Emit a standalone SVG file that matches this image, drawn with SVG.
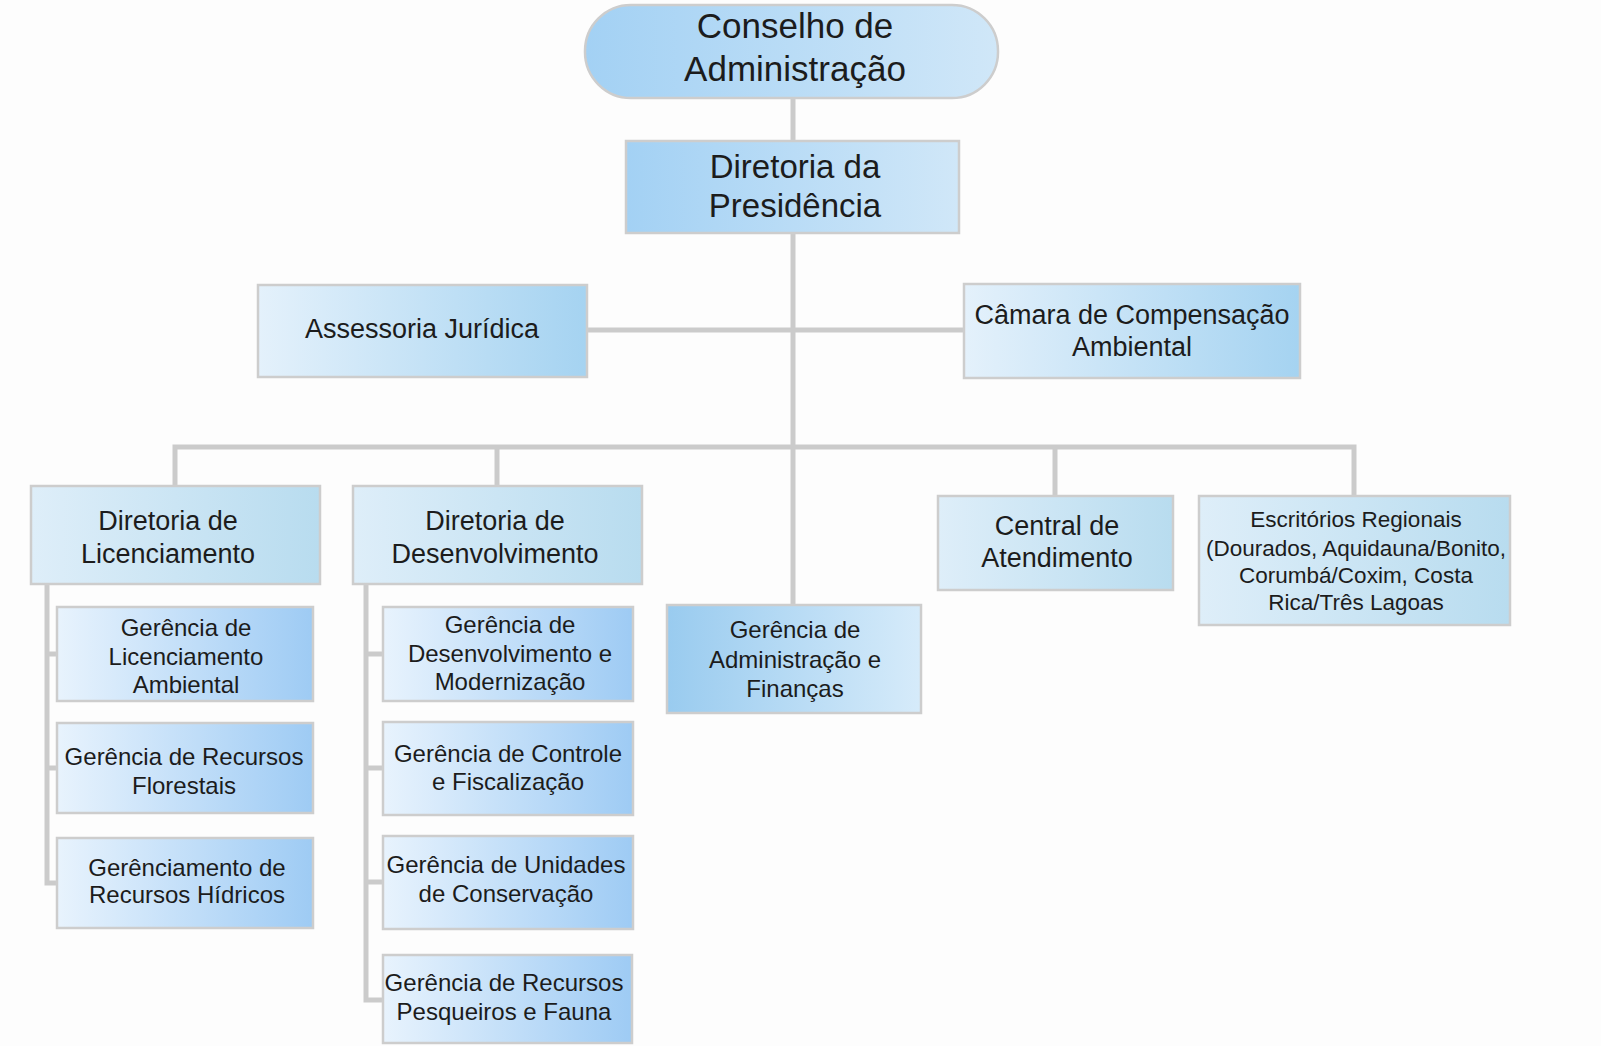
<svg xmlns="http://www.w3.org/2000/svg" width="1601" height="1046" viewBox="0 0 1601 1046">
<style>
.t{font-family:"Liberation Sans",Arial,sans-serif;fill:#1c1c1c;text-anchor:middle}
.b{stroke:#cdcdcd;stroke-width:2.5}
.c{fill:none;stroke:#cbcbcb;stroke-width:5;stroke-linejoin:miter;stroke-linecap:butt}
</style>
<defs>
<linearGradient id="gTop" x1="0" y1="0" x2="1" y2="0"><stop offset="0" stop-color="#a3d1f4"/><stop offset="1" stop-color="#d0e7f8"/></linearGradient>
<linearGradient id="gSide" x1="0" y1="0" x2="1" y2="0"><stop offset="0" stop-color="#e4f1fb"/><stop offset="1" stop-color="#a5d3f1"/></linearGradient>
<linearGradient id="gDir" x1="0" y1="0" x2="1" y2="0"><stop offset="0" stop-color="#deeef9"/><stop offset="1" stop-color="#b8dcef"/></linearGradient>
<linearGradient id="gSub" x1="0" y1="0" x2="1" y2="0"><stop offset="0" stop-color="#e8f3fd"/><stop offset="1" stop-color="#9ecbf4"/></linearGradient>
<linearGradient id="gAdm" x1="0" y1="0" x2="1" y2="0"><stop offset="0" stop-color="#99cbef"/><stop offset="1" stop-color="#d6ebfa"/></linearGradient>
</defs>
<rect width="1601" height="1046" fill="#fdfdfd"/>
<g id="connectors">
<path class="c" d="M793 98V141"/>
<path class="c" d="M793 233V605"/>
<path class="c" d="M587 330H964"/>
<path class="c" d="M175 486V447H1354V496"/>
<path class="c" d="M497 447V486"/>
<path class="c" d="M1055 447V496"/>
<path class="c" d="M47 584V883H57M47 654H57M47 768H57"/>
<path class="c" d="M366 584V1000H383M366 654H383M366 768H383M366 882H383"/>
</g>
<g id="conselho">
<rect class="b" x="585" y="5" width="413" height="93" rx="46" fill="url(#gTop)"/>
<text class="t" font-size="35" x="795" y="38">Conselho de</text>
<text class="t" font-size="35" x="795" y="81">Administração</text>
</g>
<g id="presidencia">
<rect class="b" x="626" y="141" width="333" height="92" fill="url(#gTop)"/>
<text class="t" font-size="33" x="795" y="178">Diretoria da</text>
<text class="t" font-size="33" x="795" y="217">Presidência</text>
</g>
<g id="assessoria">
<rect class="b" x="258" y="285" width="329" height="92" fill="url(#gSide)"/>
<text class="t" font-size="27" x="422" y="338">Assessoria Jurídica</text>
</g>
<g id="camara">
<rect class="b" x="964" y="284" width="336" height="94" fill="url(#gSide)"/>
<text class="t" font-size="27" x="1132" y="324">Câmara de Compensação</text>
<text class="t" font-size="27" x="1132" y="356">Ambiental</text>
</g>
<g id="dir-licenciamento">
<rect class="b" x="31" y="486" width="289" height="98" fill="url(#gDir)"/>
<text class="t" font-size="27" x="168" y="530">Diretoria de</text>
<text class="t" font-size="27" x="168" y="563">Licenciamento</text>
</g>
<g id="dir-desenvolvimento">
<rect class="b" x="353" y="486" width="289" height="98" fill="url(#gDir)"/>
<text class="t" font-size="27" x="495" y="530">Diretoria de</text>
<text class="t" font-size="27" x="495" y="563">Desenvolvimento</text>
</g>
<g id="central">
<rect class="b" x="938" y="496" width="235" height="94" fill="url(#gDir)"/>
<text class="t" font-size="27" x="1057" y="535">Central de</text>
<text class="t" font-size="27" x="1057" y="567">Atendimento</text>
</g>
<g id="escritorios">
<rect class="b" x="1199" y="496" width="311" height="129" fill="url(#gDir)"/>
<text class="t" font-size="22.5" x="1356" y="527">Escritórios Regionais</text>
<text class="t" font-size="22.5" x="1356" y="556">(Dourados, Aquidauna/Bonito,</text>
<text class="t" font-size="22.5" x="1356" y="583">Corumbá/Coxim, Costa</text>
<text class="t" font-size="22.5" x="1356" y="610">Rica/Três Lagoas</text>
</g>
<g id="adm-financas">
<rect class="b" x="667" y="605" width="254" height="108" fill="url(#gAdm)"/>
<text class="t" font-size="24" x="795" y="638">Gerência de</text>
<text class="t" font-size="24" x="795" y="668">Administração e</text>
<text class="t" font-size="24" x="795" y="697">Finanças</text>
</g>
<g id="ger-lic-ambiental">
<rect class="b" x="57" y="607" width="256" height="94" fill="url(#gSub)"/>
<text class="t" font-size="24" x="186" y="636">Gerência de</text>
<text class="t" font-size="24" x="186" y="665">Licenciamento</text>
<text class="t" font-size="24" x="186" y="693">Ambiental</text>
</g>
<g id="ger-florestais">
<rect class="b" x="57" y="723" width="256" height="90" fill="url(#gSub)"/>
<text class="t" font-size="24" x="184" y="765">Gerência de Recursos</text>
<text class="t" font-size="24" x="184" y="794">Florestais</text>
</g>
<g id="ger-hidricos">
<rect class="b" x="57" y="838" width="256" height="90" fill="url(#gSub)"/>
<text class="t" font-size="24" x="187" y="876">Gerênciamento de</text>
<text class="t" font-size="24" x="187" y="903">Recursos Hídricos</text>
</g>
<g id="ger-modernizacao">
<rect class="b" x="383" y="607" width="250" height="94" fill="url(#gSub)"/>
<text class="t" font-size="24" x="510" y="633">Gerência de</text>
<text class="t" font-size="24" x="510" y="662">Desenvolvimento e</text>
<text class="t" font-size="24" x="510" y="690">Modernização</text>
</g>
<g id="ger-controle">
<rect class="b" x="383" y="722" width="250" height="93" fill="url(#gSub)"/>
<text class="t" font-size="24" x="508" y="762">Gerência de Controle</text>
<text class="t" font-size="24" x="508" y="790">e Fiscalização</text>
</g>
<g id="ger-unidades">
<rect class="b" x="383" y="836" width="250" height="93" fill="url(#gSub)"/>
<text class="t" font-size="24" x="506" y="873">Gerência de Unidades</text>
<text class="t" font-size="24" x="506" y="902">de Conservação</text>
</g>
<g id="ger-pesqueiros">
<rect class="b" x="383" y="955" width="249" height="88" fill="url(#gSub)"/>
<text class="t" font-size="24" x="504" y="991">Gerência de Recursos</text>
<text class="t" font-size="24" x="504" y="1020">Pesqueiros e Fauna</text>
</g>
</svg>
